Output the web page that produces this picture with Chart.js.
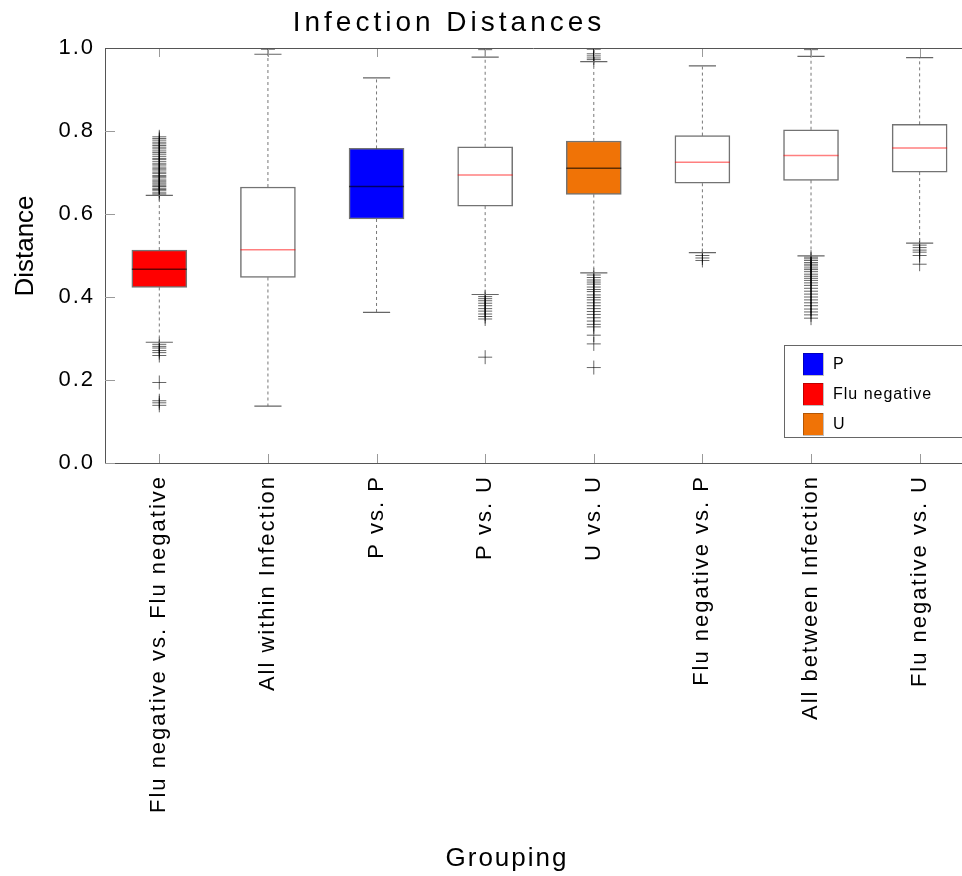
<!DOCTYPE html>
<html>
<head>
<meta charset="utf-8">
<title>Infection Distances</title>
<script src="https://cdn.jsdelivr.net/npm/chart.js@4.4.1/dist/chart.umd.min.js"></script>
<style>
  html, body { margin: 0; padding: 0; background: #fff; overflow: hidden; }
  canvas { display: block; }
</style>
</head>
<body>
<canvas id="chart" width="962" height="876"></canvas>
<script>
// groups on the x axis
const categories = [
    'Flu negative vs. Flu negative', 'All within Infection', 'P vs. P', 'P vs. U',
    'U vs. U', 'Flu negative vs. P', 'All between Infection', 'Flu negative vs. U'
];
// which legend group each box belongs to ('' = plain box)
const boxGroup = ['Flu negative', '', 'P', '', 'U', '', '', ''];
const legendLabels = ['P', 'Flu negative', 'U'];

// box statistics
const whiskerLow  = [0.291, 0.137, 0.363, 0.406, 0.458, 0.507, 0.499, 0.530];
const q1          = [0.423, 0.447, 0.588, 0.619, 0.647, 0.674, 0.681, 0.701];
const median      = [0.467, 0.514, 0.666, 0.694, 0.710, 0.725, 0.741, 0.759];
const q3          = [0.513, 0.665, 0.758, 0.762, 0.776, 0.789, 0.803, 0.816];
const whiskerHigh = [0.645, 0.985, 0.928, 0.978, 0.967, 0.957, 0.980, 0.977];

// outliers per group
const outliers = [
    [0.648, 0.651, 0.656, 0.659, 0.662, 0.666, 0.668, 0.672, 0.675, 0.679, 0.682, 0.687,
     0.69, 0.693, 0.698, 0.701, 0.706, 0.709, 0.713, 0.718, 0.721, 0.726, 0.731, 0.734,
     0.739, 0.744, 0.748, 0.752, 0.757, 0.761, 0.765, 0.769, 0.773, 0.778, 0.782, 0.786,
     0.286, 0.281, 0.277, 0.271, 0.266, 0.259, 0.194, 0.150, 0.145, 0.139],
    [0.997],
    [],
    [0.996, 0.401, 0.396, 0.391, 0.385, 0.379, 0.372, 0.366, 0.359, 0.353, 0.347, 0.255],
    [0.972, 0.976, 0.981, 0.986, 0.997,
     0.453, 0.447, 0.441, 0.436, 0.431, 0.424, 0.418, 0.413, 0.405, 0.399, 0.393, 0.386,
     0.379, 0.372, 0.365, 0.358, 0.35, 0.342, 0.334, 0.328, 0.308, 0.287, 0.230],
    [0.500, 0.494, 0.488],
    [0.996, 0.496, 0.492, 0.488, 0.483, 0.479, 0.475, 0.47, 0.466, 0.461, 0.455, 0.45,
     0.445, 0.44, 0.434, 0.428, 0.421, 0.414, 0.407, 0.4, 0.393, 0.386, 0.379, 0.371,
     0.364, 0.357, 0.349],
    [0.525, 0.519, 0.513, 0.508, 0.500, 0.479]
];

const yTicks = { min: 0, max: 1, step: 0.2 };

// styles
const groupColors = { 'P': '#0000ff', 'Flu negative': '#ff0000', 'U': '#f07306' };
const BOX_HALF = 0.253;
const CAP_HALF = 0.125;
const FONT = '"Liberation Sans", Arial, Helvetica, sans-serif';

Chart.defaults.font.family = FONT;
Chart.defaults.color = '#000';

function segments(half, values) {
    const pts = [];
    values.forEach((v, i) => {
        pts.push({ x: i - half, y: v }, { x: i + half, y: v }, { x: i, y: null });
    });
    return pts;
}

const plainMedian = median.map((m, i) => boxGroup[i] ? null : m);
const colorMedian = median.map((m, i) => boxGroup[i] ? m : null);

const whiskers = [];
categories.forEach((_, i) => {
    whiskers.push({ x: i, y: q3[i] }, { x: i, y: whiskerHigh[i] }, { x: i, y: null });
    whiskers.push({ x: i, y: q1[i] }, { x: i, y: whiskerLow[i] }, { x: i, y: null });
});

const outlierPoints = [];
outliers.forEach((list, i) => list.forEach(v => outlierPoints.push({ x: i, y: v })));

// canvas letter spacing, the original text is spaced out
const spacing = {
    id: 'spacing',
    beforeUpdate(chart) { chart.ctx.letterSpacing = '2px'; },
    beforeLayout(chart) { chart.ctx.letterSpacing = '2px'; },
    beforeDraw(chart) { chart.ctx.letterSpacing = '2px'; }
};

// frame, inward tick marks, titles and legend
const decorations = {
    id: 'decorations',
    afterDraw(chart) {
        const { ctx, chartArea: ca, scales } = chart;
        ctx.save();
        ctx.strokeStyle = '#9a9a9a';
        ctx.lineWidth = 1;
        ctx.beginPath();
        scales.y.ticks.forEach(t => {
            const y = Math.round(scales.y.getPixelForValue(t.value)) + 0.5;
            ctx.moveTo(ca.left, y); ctx.lineTo(ca.left + 10, y);
        });
        categories.forEach((_, i) => {
            const x = Math.round(scales.x.getPixelForValue(i)) + 0.5;
            ctx.moveTo(x, ca.bottom); ctx.lineTo(x, ca.bottom - 9);
            ctx.moveTo(x, ca.top); ctx.lineTo(x, ca.top + 9);
        });
        ctx.stroke();

        ctx.strokeStyle = '#555';
        ctx.beginPath();
        ctx.moveTo(ca.left, Math.round(ca.top) + 0.5);
        ctx.lineTo(ca.right, Math.round(ca.top) + 0.5);
        ctx.stroke();

        // chart title
        ctx.letterSpacing = '4px';
        ctx.fillStyle = '#000';
        ctx.font = '28px ' + FONT;
        ctx.textAlign = 'center';
        ctx.textBaseline = 'alphabetic';
        ctx.fillText('Infection Distances', 449, 31);

        // axis titles
        ctx.letterSpacing = '2px';
        ctx.font = '26px ' + FONT;
        ctx.fillText('Grouping', 507, 866);
        ctx.save();
        ctx.letterSpacing = '0px';
        ctx.translate(33, 246);
        ctx.rotate(-Math.PI / 2);
        ctx.fillText('Distance', 0, 0);
        ctx.restore();

        // legend
        const lx = ca.right - 178, ly = ca.bottom - 118;
        ctx.fillStyle = '#fff';
        ctx.fillRect(lx, ly, 220, 92);
        ctx.strokeStyle = '#666';
        ctx.strokeRect(lx + 0.5, ly + 0.5, 220, 92);
        ctx.letterSpacing = '1px';
        ctx.font = '16px ' + FONT;
        ctx.textAlign = 'left';
        ctx.textBaseline = 'middle';
        legendLabels.forEach((label, k) => {
            const cy = ly + 19 + k * 30;
            ctx.fillStyle = groupColors[label];
            ctx.fillRect(lx + 19, cy - 11, 20, 22);
            ctx.strokeStyle = 'rgba(0,0,0,0.25)';
            ctx.strokeRect(lx + 19.5, cy - 10.5, 20, 22);
            ctx.fillStyle = '#000';
            ctx.fillText(label, lx + 49, cy + 1);
        });
        ctx.restore();
    }
};

new Chart(document.getElementById('chart'), {
    type: 'bar',
    data: {
        datasets: [
            {
                type: 'line', data: segments(BOX_HALF, colorMedian),
                borderColor: 'rgba(0,0,0,0.6)', borderWidth: 1.5, pointRadius: 0, spanGaps: false
            },
            {
                type: 'line', data: segments(BOX_HALF, plainMedian),
                borderColor: 'rgba(255,0,0,0.5)', borderWidth: 1.5, pointRadius: 0, spanGaps: false
            },
            {
                type: 'bar',
                data: categories.map((_, i) => ({ x: i, y: [q1[i], q3[i]] })),
                backgroundColor: boxGroup.map(g => g ? groupColors[g] : '#fff'),
                borderColor: 'rgba(0,0,0,0.55)',
                borderWidth: 1.5,
                borderSkipped: false,
                barThickness: 55
            },
            {
                type: 'line', data: segments(CAP_HALF, whiskerHigh).concat(segments(CAP_HALF, whiskerLow)),
                borderColor: '#666', borderWidth: 1.2, pointRadius: 0, spanGaps: false
            },
            {
                type: 'line', data: whiskers,
                borderColor: '#777', borderWidth: 1, borderDash: [3, 3], pointRadius: 0, spanGaps: false
            },
            {
                type: 'scatter', data: outlierPoints,
                pointStyle: 'cross', pointRadius: 7, borderWidth: 1,
                borderColor: 'rgba(0,0,0,0.6)', clip: 0
            }
        ]
    },
    options: {
        responsive: false,
        animation: false,
        layout: { autoPadding: false, padding: { top: 48, left: 0, right: 0, bottom: 0 } },
        plugins: {
            legend: { display: false },
            tooltip: { enabled: false },
            title: { display: false }
        },
        scales: {
            x: {
                type: 'linear',
                min: -0.5,
                max: 7.39,
                bounds: 'data',
                offset: false,
                grid: { display: false, drawTicks: false, offset: false },
                border: { display: true, color: '#555', width: 1 },
                afterBuildTicks(scale) { scale.ticks = categories.map((_, i) => ({ value: i })); },
                afterFit(scale) {
                    scale.height = 413;
                    scale.paddingLeft = 0;
                    scale.paddingRight = 0;
                },
                ticks: {
                    autoSkip: false,
                    minRotation: 90,
                    maxRotation: 90,
                    padding: 12,
                    font: { size: 22 },
                    callback: v => categories[v]
                },
                title: { display: false }
            },
            y: {
                min: yTicks.min,
                max: yTicks.max,
                grid: { display: false, drawTicks: false },
                border: { display: true, color: '#555', width: 1 },
                afterFit(scale) { scale.width = 105; },
                ticks: {
                    stepSize: yTicks.step,
                    padding: 10,
                    font: { size: 22 },
                    callback: v => v.toFixed(1)
                },
                title: { display: false }
            }
        }
    },
    plugins: [spacing, decorations]
});
</script>
</body>
</html>
